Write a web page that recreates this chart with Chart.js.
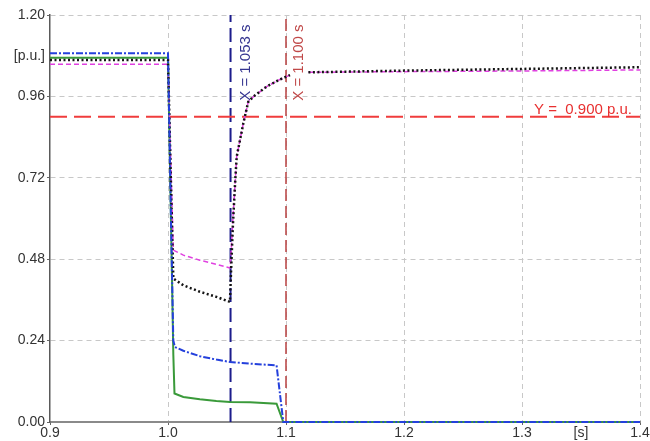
<!DOCTYPE html>
<html>
<head>
<meta charset="utf-8">
<script src="https://cdn.jsdelivr.net/npm/chart.js@4.4.1/dist/chart.umd.min.js"></script>
<style>
html,body{margin:0;padding:0;background:#fff;}
canvas{display:block;}
</style>
</head>
<body>
<canvas id="c" width="650" height="441"></canvas>
<script>
// ---- data ----
const xTicks = [0.9, 1.0, 1.1, 1.2, 1.3, 1.35, 1.4];
const xUnitTick = 1.35;
const yTicks = [0, 0.24, 0.48, 0.72, 0.96, 1.08, 1.2];
const yUnitTick = 1.08;

const blueT = [0.9, 1.0, 1.0025, 1.0045, 1.0059, 1.013, 1.027, 1.041, 1.0525, 1.0695, 1.092, 1.0977, 1.4];
const blueV = [1.087, 1.087, 0.60, 0.24, 0.221, 0.210, 0.194, 0.184, 0.177, 0.172, 0.167, 0.0, 0.0];

const greenT = [0.9, 1.0, 1.0025, 1.0045, 1.0055, 1.013, 1.027, 1.041, 1.0525, 1.0695, 1.092, 1.0977, 1.4];
const greenV = [1.074, 1.074, 0.60, 0.20, 0.084, 0.074, 0.067, 0.062, 0.059, 0.058, 0.054, 0.0, 0.0];

const blackT = [0.9, 1.0, 1.0025, 1.0045, 1.013, 1.027, 1.041, 1.0525, 1.0535, 1.055, 1.0568, 1.0582, 1.0638, 1.068, 1.0723, 1.0836, 1.0949, 1.1034, 1.11, 1.119, 1.2, 1.3, 1.4];
const blackV = [1.067, 1.067, 0.70, 0.423, 0.403, 0.384, 0.369, 0.354, 0.45, 0.58, 0.70, 0.782, 0.880, 0.944, 0.959, 0.989, 1.010, 1.023, null, 1.031, 1.036, 1.041, 1.046];

const magentaT = [0.9, 1.0, 1.0025, 1.0045, 1.013, 1.027, 1.041, 1.0525, 1.0535, 1.055, 1.0568, 1.0582, 1.0638, 1.068, 1.0723, 1.0836, 1.0949, 1.1034, 1.11, 1.119, 1.2, 1.3, 1.4];
const magentaV = [1.055, 1.055, 0.75, 0.507, 0.492, 0.477, 0.465, 0.454, 0.50, 0.60, 0.70, 0.782, 0.880, 0.944, 0.959, 0.989, 1.010, 1.023, null, 1.031, 1.033, 1.035, 1.038];

const markerX = [1.053, 1.100];
const markerXLabels = ['X = 1.053 s', 'X = 1.100 s'];
const markerY = 0.9;
const markerYLabel = 'Y =  0.900 p.u.';

// ---- build ----
const pts = (t, v) => t.map((x, i) => ({x: x, y: v[i]}));
const FONT = '"Liberation Sans", Arial, sans-serif';

const datasets = [
  {data: pts(blueT, blueV), borderColor: '#2440dc', borderWidth: 2, borderDash: [7, 2, 2, 2], order: 0, clip: 6},
  {data: pts(blackT, blackV), borderColor: '#141414', borderWidth: 2.5, borderDash: [2, 2.5], order: 1},
  {data: pts(magentaT, magentaV), borderColor: '#e040e0', borderWidth: 1.5, borderDash: [5, 3], order: 2},
  {data: pts(greenT, greenV), borderColor: '#3a9a3a', borderWidth: 2, order: 3, clip: 6},
  {data: [{x: markerX[0], y: 0}, {x: markerX[0], y: 1.2}], borderColor: '#1c1c8c', borderWidth: 2, borderDash: [14, 6], order: 10},
  {data: [{x: markerX[1], y: 0}, {x: markerX[1], y: 1.2}], borderColor: '#b84040', borderWidth: 1.5, borderDash: [12, 5], order: 10},
  {data: [{x: 0.9, y: markerY}, {x: 1.4, y: markerY}], borderColor: '#f03c3c', borderWidth: 2, borderDash: [17, 7], order: 9}
];

const near = (a, b) => Math.abs(a - b) < 1e-6;

const textPlugin = {
  id: 'markerText',
  afterDatasetsDraw(chart) {
    const ctx = chart.ctx, xs = chart.scales.x, ys = chart.scales.y, area = chart.chartArea;
    ctx.save();
    ctx.font = '15px ' + FONT;
    ctx.textBaseline = 'alphabetic';
    const cols = ['#353590', '#c04848'];
    markerX.forEach((mx, i) => {
      ctx.save();
      ctx.translate(xs.getPixelForValue(mx) + (i === 0 ? 19 : 17), ys.getPixelForValue(0.95) + 1);
      ctx.rotate(-Math.PI / 2);
      ctx.fillStyle = cols[i];
      ctx.textAlign = 'left';
      ctx.fillText(markerXLabels[i], 0, 0);
      ctx.restore();
    });
    ctx.fillStyle = '#e83030';
    ctx.textAlign = 'right';
    ctx.fillText(markerYLabel, area.right - 8, ys.getPixelForValue(markerY) - 3);
    ctx.restore();
  }
};

new Chart(document.getElementById('c'), {
  type: 'line',
  data: {datasets: datasets},
  options: {
    responsive: false,
    animation: false,
    layout: {padding: {top: 15, right: 10, left: 0, bottom: 0}},
    plugins: {legend: {display: false}, tooltip: {enabled: false}},
    elements: {point: {radius: 0}, line: {tension: 0, fill: false}},
    spanGaps: false,
    scales: {
      x: {
        type: 'linear', min: 0.9, max: 1.4,
        afterBuildTicks: s => { s.ticks = xTicks.map(v => ({value: v})); },
        afterFit: s => { s.height = 19; },
        ticks: {
          autoSkip: false, maxRotation: 0, padding: 0, color: '#333',
          font: {family: FONT, size: 14},
          callback: v => near(v, xUnitTick) ? '[s]' : Number(v).toFixed(1)
        },
        grid: {
          color: c => (c.tick && (near(c.tick.value, xUnitTick) || near(c.tick.value, 0.9))) ? 'rgba(0,0,0,0)' : '#c8c8c8',
          tickColor: c => (c.tick && near(c.tick.value, xUnitTick)) ? 'rgba(0,0,0,0)' : '#666',
          tickLength: 3, lineWidth: 1
        },
        border: {color: '#8a8a8a', width: 2, dash: [5, 4]}
      },
      y: {
        type: 'linear', min: 0, max: 1.2,
        afterBuildTicks: s => { s.ticks = yTicks.map(v => ({value: v})); },
        afterFit: s => { s.width = 50; },
        ticks: {
          autoSkip: false, padding: 2, color: '#333',
          font: {family: FONT, size: 14},
          callback: v => near(v, yUnitTick) ? '[p.u.]' : Number(v).toFixed(2)
        },
        grid: {
          color: c => (c.tick && (near(c.tick.value, yUnitTick) || near(c.tick.value, 0))) ? 'rgba(0,0,0,0)' : '#c8c8c8',
          tickColor: c => (c.tick && near(c.tick.value, yUnitTick)) ? 'rgba(0,0,0,0)' : '#666',
          tickLength: 3, lineWidth: 1
        },
        border: {color: '#5a5a5a', width: 1.5, dash: [5, 4]}
      }
    }
  },
  plugins: [textPlugin]
});
</script>
</body>
</html>
